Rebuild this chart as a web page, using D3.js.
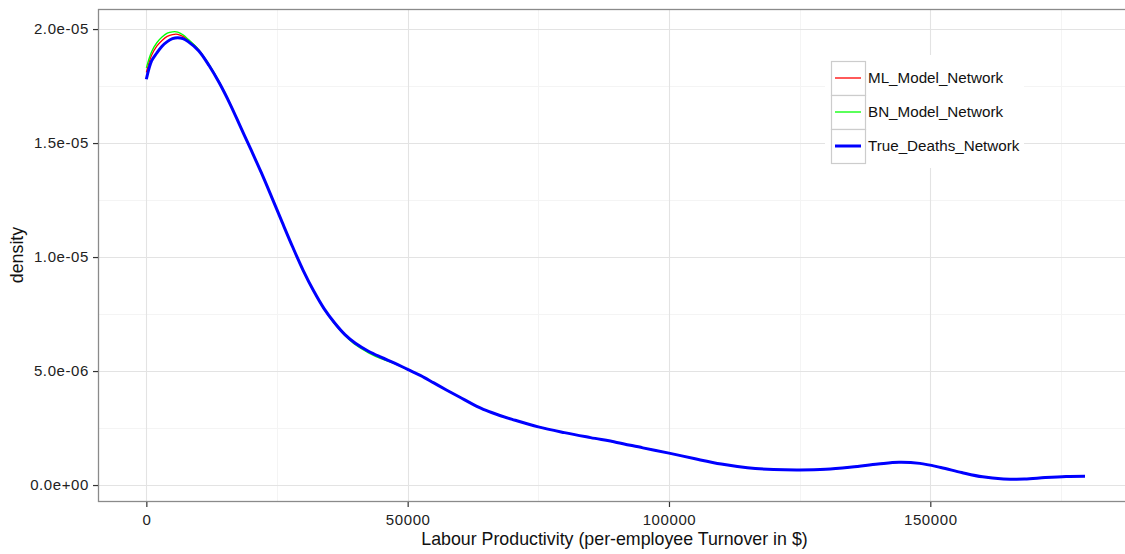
<!DOCTYPE html>
<html>
<head>
<meta charset="utf-8">
<title>Labour productivity density</title>
<script src="https://d3js.org/d3.v7.min.js"></script>
<style>
body { margin: 0; background: #fff; }
svg { display: block; font-family: "Liberation Sans", Arial, sans-serif; }
.grid-major { stroke: #e3e3e3; stroke-width: 1.1px; }
.grid-minor { stroke: #f4f4f4; stroke-width: 1px; }
.tick-label { font-size: 15px; fill: #222; letter-spacing: 0.6px; }
.axis-title { font-size: 17.8px; fill: #111; }
.legend text { font-size: 15.2px; fill: #111; }
</style>
</head>
<body>
<svg id="chart" width="1125" height="554"></svg>
<script>
// x positions of the density estimate (turnover per employee, $)
var xs = [0, 1000, 2000, 3000, 4000, 5000, 6000, 7000, 8000, 10000, 12000, 14000,
  16000, 18000, 20000, 22000, 24000, 26000, 28000, 30000, 32000, 34000, 36000,
  38000, 40000, 42500, 45000, 47500, 50000, 52500, 55000, 57500, 60000, 62500,
  65000, 67500, 70000, 75000, 80000, 85000, 90000, 95000, 100000, 105000, 110000,
  115000, 120000, 125000, 130000, 135000, 140000, 144000, 148000, 152000, 156000,
  160000, 164000, 168000, 172000, 176000, 179600];

// densities, in units of 1e-6
var mlModel = [18.1, 18.85, 19.25, 19.5, 19.68, 19.76, 19.77, 19.68, 19.52, 19.1, 18.42,
  17.64, 16.73, 15.73, 14.72, 13.7, 12.62, 11.52, 10.44, 9.42, 8.52, 7.74, 7.11,
  6.6, 6.2, 5.85, 5.58, 5.34, 5.07, 4.8, 4.48, 4.16, 3.85, 3.54, 3.27, 3.06,
  2.88, 2.55, 2.3, 2.08, 1.87, 1.63, 1.4, 1.15, 0.92, 0.76, 0.68, 0.66, 0.69,
  0.79, 0.92, 1.0, 0.95, 0.77, 0.55, 0.36, 0.27, 0.26, 0.33, 0.38, 0.39];
var bnModel = [18.3, 19.0, 19.4, 19.65, 19.82, 19.88, 19.87, 19.75, 19.55, 19.1, 18.45,
  17.66, 16.75, 15.74, 14.73, 13.71, 12.63, 11.52, 10.42, 9.4, 8.5, 7.71, 7.07,
  6.56, 6.15, 5.8, 5.53, 5.32, 5.06, 4.8, 4.48, 4.16, 3.85, 3.54, 3.27, 3.06,
  2.88, 2.55, 2.3, 2.08, 1.87, 1.63, 1.4, 1.15, 0.92, 0.76, 0.68, 0.66, 0.69,
  0.79, 0.92, 1.0, 0.95, 0.77, 0.55, 0.36, 0.27, 0.26, 0.33, 0.38, 0.39];
var trueDeaths = [17.8, 18.6, 18.95, 19.25, 19.45, 19.58, 19.62, 19.58, 19.45, 19.05, 18.4,
  17.62, 16.72, 15.72, 14.72, 13.7, 12.62, 11.52, 10.44, 9.42, 8.52, 7.74, 7.12,
  6.6, 6.22, 5.87, 5.6, 5.35, 5.07, 4.8, 4.48, 4.16, 3.85, 3.54, 3.27, 3.06,
  2.88, 2.55, 2.3, 2.08, 1.87, 1.63, 1.4, 1.15, 0.92, 0.76, 0.68, 0.66, 0.69,
  0.79, 0.92, 1.0, 0.95, 0.77, 0.55, 0.36, 0.27, 0.26, 0.33, 0.38, 0.39];

var seriesNames = ["ML_Model_Network", "BN_Model_Network", "True_Deaths_Network"];
var seriesColors = ["#ff0000", "#00ff00", "#0000ff"];
var seriesWidths = [1.3, 1.3, 3];

var xMajor = [0, 50000, 100000, 150000];
var xMinor = [25000, 75000, 125000, 175000];
var yMajor = [0, 5e-6, 1e-5, 1.5e-5, 2e-5];
var yMinor = [2.5e-6, 7.5e-6, 1.25e-5, 1.75e-5];
var yLabels = ["0.0e+00", "5.0e-06", "1.0e-05", "1.5e-05", "2.0e-05"];

var svg = d3.select("#chart");
var pLeft = 98, pTop = 9, pRight = 1131, pBottom = 501;

var x = d3.scaleLinear().domain([-9250, 188400]).range([pLeft, pRight]);
var y = d3.scaleLinear().domain([-0.70e-6, 20.88e-6]).range([pBottom, pTop]);

var panel = svg.append("g");
panel.append("rect")
  .attr("x", pLeft).attr("y", pTop)
  .attr("width", pRight - pLeft).attr("height", pBottom - pTop)
  .attr("fill", "#fff");

function px(v) { return Math.round(v) + 0.5; }

// grid, minor first so majors sit on top
panel.selectAll(".ymin").data(yMinor).enter().append("line")
  .attr("class", "grid-minor")
  .attr("x1", pLeft).attr("x2", pRight)
  .attr("y1", function (d) { return px(y(d)); })
  .attr("y2", function (d) { return px(y(d)); });
panel.selectAll(".xmin").data(xMinor).enter().append("line")
  .attr("class", "grid-minor")
  .attr("y1", pTop).attr("y2", pBottom)
  .attr("x1", function (d) { return px(x(d)); })
  .attr("x2", function (d) { return px(x(d)); });
panel.selectAll(".ymaj").data(yMajor).enter().append("line")
  .attr("class", "grid-major")
  .attr("x1", pLeft).attr("x2", pRight)
  .attr("y1", function (d) { return px(y(d)); })
  .attr("y2", function (d) { return px(y(d)); });
panel.selectAll(".xmaj").data(xMajor).enter().append("line")
  .attr("class", "grid-major")
  .attr("y1", pTop).attr("y2", pBottom)
  .attr("x1", function (d) { return px(x(d)); })
  .attr("x2", function (d) { return px(x(d)); });

// density lines
var line = d3.line()
  .x(function (d) { return x(d[0]); })
  .y(function (d) { return y(d[1] * 1e-6); })
  .curve(d3.curveCatmullRom);

[mlModel, bnModel, trueDeaths].forEach(function (vals, i) {
  panel.append("path")
    .datum(xs.map(function (v, j) { return [v, vals[j]]; }))
    .attr("fill", "none")
    .attr("stroke", seriesColors[i])
    .attr("stroke-width", seriesWidths[i])
    .attr("stroke-linejoin", "round")
    .attr("d", line);
});

// panel border
svg.append("rect")
  .attr("x", pLeft + 0.5).attr("y", pTop + 0.5)
  .attr("width", pRight - pLeft).attr("height", pBottom - pTop)
  .attr("fill", "none").attr("stroke", "#8a8a8a").attr("stroke-width", 1.3);

// axes
var yAxis = d3.axisLeft(y).tickValues(yMajor).tickSize(5).tickPadding(4)
  .tickFormat(function (d, i) { return yLabels[i]; });
var gy = svg.append("g").attr("transform", "translate(" + pLeft + ",0)").call(yAxis);
var xAxis = d3.axisBottom(x).tickValues(xMajor).tickSize(5).tickPadding(7)
  .tickFormat(d3.format("d"));
var gx = svg.append("g").attr("transform", "translate(0," + (pBottom + 1) + ")").call(xAxis);

[gx, gy].forEach(function (g) {
  g.select(".domain").remove();
  g.selectAll(".tick line").attr("stroke", "#333").attr("stroke-width", 1.2);
  g.selectAll(".tick text").attr("class", "tick-label").attr("font-family", null).attr("font-size", null);
});

svg.append("text").attr("class", "axis-title")
  .attr("x", (pLeft + pRight) / 2).attr("y", 545)
  .attr("text-anchor", "middle")
  .text("Labour Productivity (per-employee Turnover in $)");
svg.append("text").attr("class", "axis-title")
  .attr("transform", "translate(23," + (pTop + pBottom) / 2 + ") rotate(-90)")
  .attr("text-anchor", "middle")
  .text("density");

// legend
var legend = svg.append("g").attr("class", "legend");
legend.append("rect")
  .attr("x", 825).attr("y", 55).attr("width", 199).attr("height", 113)
  .attr("fill", "#fff");
var keyH = 34;
var items = legend.selectAll(".item").data(seriesNames).enter().append("g")
  .attr("transform", function (d, i) { return "translate(831," + (61 + i * keyH) + ")"; });
items.append("rect")
  .attr("x", 0.5).attr("y", 0.5).attr("width", keyH).attr("height", keyH)
  .attr("fill", "#fff").attr("stroke", "#cccccc").attr("stroke-width", 1.2);
items.append("line")
  .attr("x1", 4).attr("x2", 30)
  .attr("y1", keyH / 2).attr("y2", keyH / 2)
  .attr("stroke", function (d, i) { return seriesColors[i]; })
  .attr("stroke-width", function (d, i) { return seriesWidths[i]; });
items.append("text")
  .attr("x", 37).attr("y", keyH / 2 + 5)
  .text(function (d) { return d; });
</script>
</body>
</html>
